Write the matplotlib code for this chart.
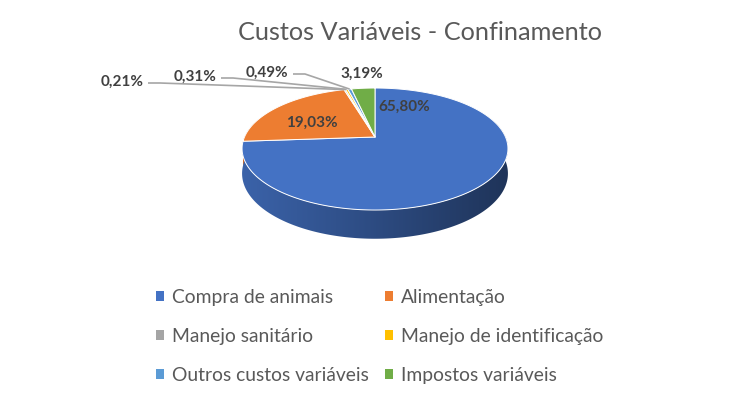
import numpy as np
import matplotlib
matplotlib.use("Agg")
import matplotlib.pyplot as plt
from matplotlib.patches import Polygon, Patch
import matplotlib.colors as mc

title = "Custos Variáveis - Confinamento"
categories = ["Compra de animais", "Alimentação", "Manejo sanitário",
              "Manejo de identificação", "Outros custos variáveis", "Impostos variáveis"]
values = [65.80, 19.03, 0.21, 0.31, 0.49, 3.19]
colors = ["#4472C4", "#ED7D31", "#A5A5A5", "#FFC000", "#5B9BD5", "#70AD47"]

FONT = "Lato"
TXT = "#595959"
LBL = "#404040"

fig = plt.figure(figsize=(7.49, 3.98), dpi=100)
ax = fig.add_axes([0, 0, 1, 1])

# projection of a tilted disk with mild perspective (pixel space)
cx, cy = 375, 137
rx, ry, p, thick = 130.5, 61, 0.197, 24


def proj(theta, h=0.0, r=1.0):
    x = r * np.sin(theta)
    z = r * np.cos(theta)
    f = 1 - p * z
    return cx + rx * x * f, cy - ry * z * f + h * thick * f


vals = np.array(values)
frac = vals / vals.sum()
bounds = np.concatenate([[0], np.cumsum(frac)]) * 2 * np.pi

# side wall (front half) with horizontal shading gradient
vis0, vis1 = np.pi / 2 - 0.25, 3 * np.pi / 2 + 0.25
gx0, gx1 = 238, 512
gx = np.linspace(0, 1, 300)
shade = 0.87 - 0.42 * gx
for i, col in enumerate(colors):
    a0, a1 = max(bounds[i], vis0), min(bounds[i + 1], vis1)
    if a1 <= a0:
        continue
    th = np.linspace(a0, a1, max(2, int((a1 - a0) / 0.005)))
    pts = [proj(t) for t in th] + [proj(t, 1) for t in th[::-1]]
    poly = Polygon(pts, closed=True, facecolor="none", edgecolor="none", zorder=2)
    ax.add_patch(poly)
    base = np.array(mc.to_rgb(col))
    img = (shade[None, :, None] * base[None, None, :]).repeat(2, axis=0)
    im = ax.imshow(img, extent=(gx0, gx1, 250, 80), interpolation="bilinear",
                   zorder=2, aspect="auto")
    im.set_clip_path(poly)

# top faces
for i, col in enumerate(colors):
    th = np.linspace(bounds[i], bounds[i + 1], max(2, int((bounds[i + 1] - bounds[i]) / 0.005)))
    pts = [(cx, cy)] + [proj(t) for t in th]
    ax.add_patch(Polygon(pts, closed=True, facecolor=col, edgecolor="white",
                         lw=0.7, zorder=3, joinstyle="round"))

# data labels
labels = [f"{v:.2f}".replace(".", ",") + "%" for v in values]
inside_pos = {0: (404, 107), 1: (312, 123), 5: (362, 74)}
outside_pos = {2: (122, 82), 3: (195, 77), 4: (267, 73)}
for i, lab in enumerate(labels):
    if i in inside_pos:
        x, y = inside_pos[i]
        ax.text(x, y, lab, ha="center", va="center", fontsize=11, fontweight="bold",
                color=LBL, family=FONT, zorder=5)
    else:
        x, y = outside_pos[i]
        ax.text(x, y, lab, ha="center", va="center", fontsize=11, fontweight="bold",
                color=LBL, family=FONT, zorder=5)
        mid = (bounds[i] + bounds[i + 1]) / 2
        ex, ey = proj(mid)
        sx = x + 26
        ax.plot([sx, sx + 12, ex], [y + 1, y + 1, ey], color="#A6A6A6", lw=1.2,
                zorder=4, solid_capstyle="butt")

ax.text(420, 33, title, ha="center", va="center", fontsize=18.2, color=TXT, family=FONT)

order = [0, 2, 4, 1, 3, 5]
handles = [Patch(facecolor=colors[i], edgecolor="none") for i in order]
leg = ax.legend(handles, [categories[i] for i in order], ncol=2, loc="center",
                bbox_to_anchor=(0.507, 0.155), frameon=False,
                prop={"family": FONT, "size": 13.9}, labelcolor=TXT,
                handlelength=0.42, handleheight=0.42, handletextpad=0.42,
                columnspacing=0.85, labelspacing=1.15, borderpad=0)

ax.set_xlim(0, 749)
ax.set_ylim(398, 0)
ax.set_aspect("auto")
ax.axis("off")

fig.savefig("out.png", dpi=100, facecolor="white")
